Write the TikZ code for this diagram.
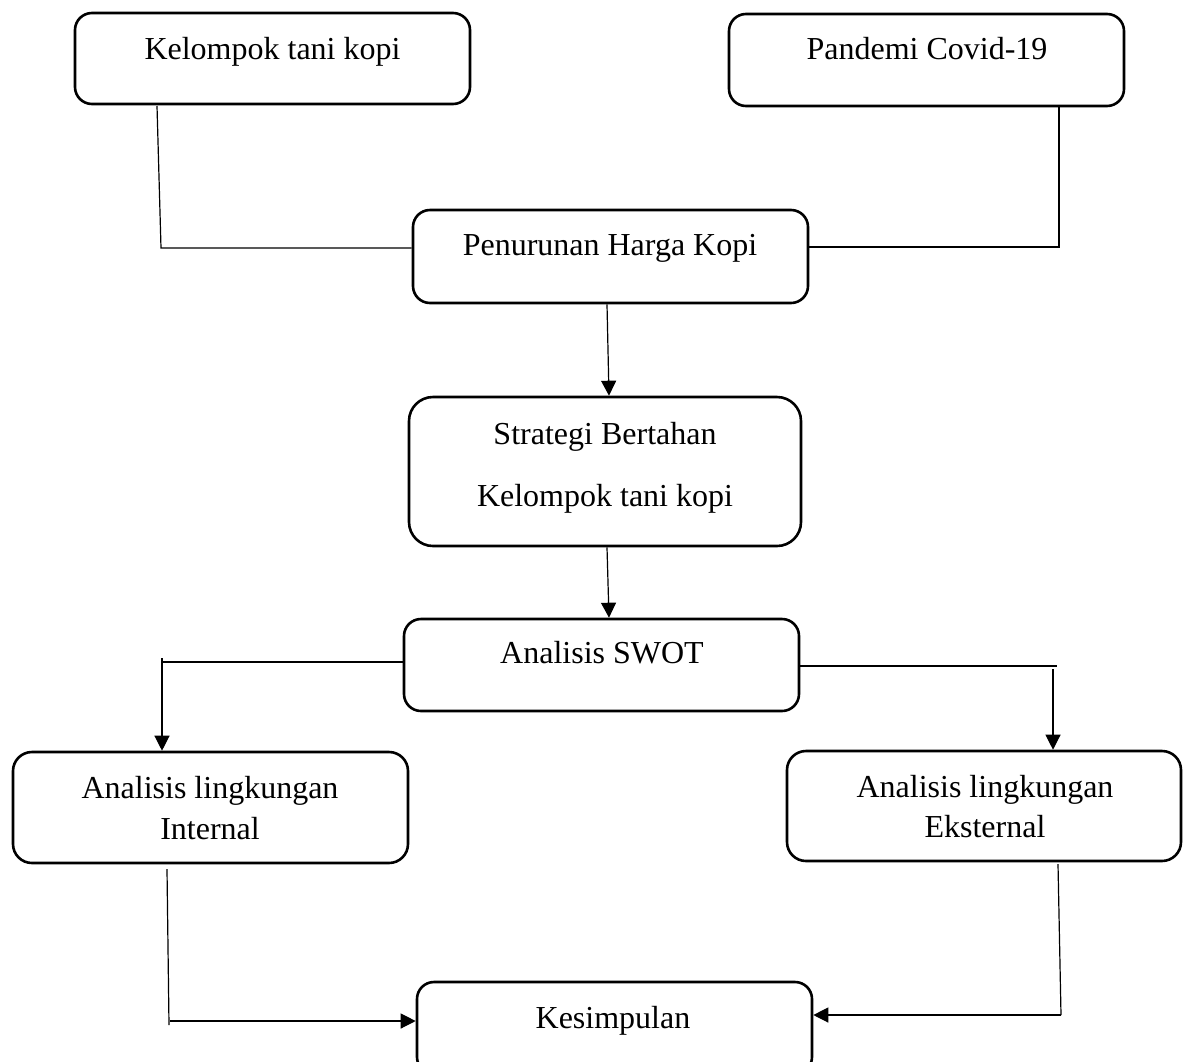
\documentclass[tikz,border=0pt]{standalone}
\usepackage{fontspec}
\setmainfont{Liberation Serif}
\usetikzlibrary{arrows.meta}
\begin{document}
\begin{tikzpicture}[x=0.5pt,y=-0.5pt,
  box/.style={draw, line width=1.3pt, rounded corners=8.5pt, inner sep=0pt},
  lbl/.style={anchor=base, inner sep=0pt, font=\fontsize{16}{19}\selectfont},
  conn/.style={line width=0.6pt},
  arr/.style={conn, -{Triangle[length=7.5pt,width=7.5pt]}}]
\useasboundingbox (0,0) rectangle (1183,1061);
\clip (0,0) rectangle (1183,1061);
% boxes
\node[box, minimum width=197.5pt, minimum height=45.5pt] (b1) at (272.5,58.5) {};
\node[box, minimum width=197.5pt, minimum height=46pt] (b2) at (926.5,60) {};
\node[box, minimum width=197.5pt, minimum height=46.5pt] (b3) at (610.5,256.5) {};
\node[box, rounded corners=12pt, minimum width=196pt, minimum height=74.5pt] (b4) at (605,471.5) {};
\node[box, minimum width=197.5pt, minimum height=46pt] (b5) at (601.5,665) {};
\node[box, rounded corners=9.5pt, minimum width=197.5pt, minimum height=55.5pt] (b6) at (210.5,807.5) {};
\node[box, rounded corners=9.5pt, minimum width=197pt, minimum height=55pt] (b7) at (984,806) {};
\node[box, minimum width=197.5pt, minimum height=46pt] (b8) at (614.5,1028) {};
% labels
\node[lbl] (t1) at (272.5,59) {Kelompok tani kopi};
\node[lbl] (t2) at (927,59) {Pandemi Covid-19};
\node[lbl] (t3) at (610,255) {Penurunan Harga Kopi};
\node[lbl] (t4a) at (605,444) {Strategi Bertahan};
\node[lbl] (t4b) at (605,506) {Kelompok tani kopi};
\node[lbl] (t5) at (602,663) {Analisis SWOT};
\node[lbl] (t6a) at (210,798) {Analisis lingkungan};
\node[lbl] (t6b) at (210,839) {Internal};
\node[lbl] (t7a) at (985,797) {Analisis lingkungan};
\node[lbl] (t7b) at (985,837) {Eksternal};
\node[lbl] (t8) at (613,1028) {Kesimpulan};
% connector coordinates
\coordinate (k1) at (157,106);
\coordinate (k2) at (161,248);
\coordinate (p1) at (1059,106);
\coordinate (p2) at (1059,247);
\coordinate (sl) at (162,662);
\coordinate (sr) at (1057,666);
\coordinate (sr2) at (1053,669);
\coordinate (i1) at (167,869);
\coordinate (i2) at (169,1025);
\coordinate (i3) at (170,1021);
\coordinate (e1) at (1058,864);
\coordinate (e2) at (1061,1015);
% connectors
\draw[conn] (k1) -- (k2) -- (k2 -| b3.west);
\draw[conn] (p1) -- (p2) -- (p2 -| b3.east);
\draw[arr] ([xshift=-1.75pt]b3.south) -- ([xshift=2pt]b4.north);
\draw[arr] ([xshift=1pt]b4.south) -- ([xshift=3.75pt]b5.north);
\draw[conn] ([yshift=1.5pt]b5.west) -- (sl);
\draw[arr] ([yshift=2pt]sl) -- (sl |- b6.north);
\draw[conn] ([yshift=-0.5pt]b5.east) -- (sr);
\draw[arr] (sr2) -- (sr2 |- b7.north);
\draw[conn] (i1) -- (i2);
\draw[arr] (i3) -- (i3 -| b8.west);
\draw[conn] (e1) -- (e2);
\draw[arr] (e2) -- (e2 -| b8.east);
\end{tikzpicture}
\end{document}
